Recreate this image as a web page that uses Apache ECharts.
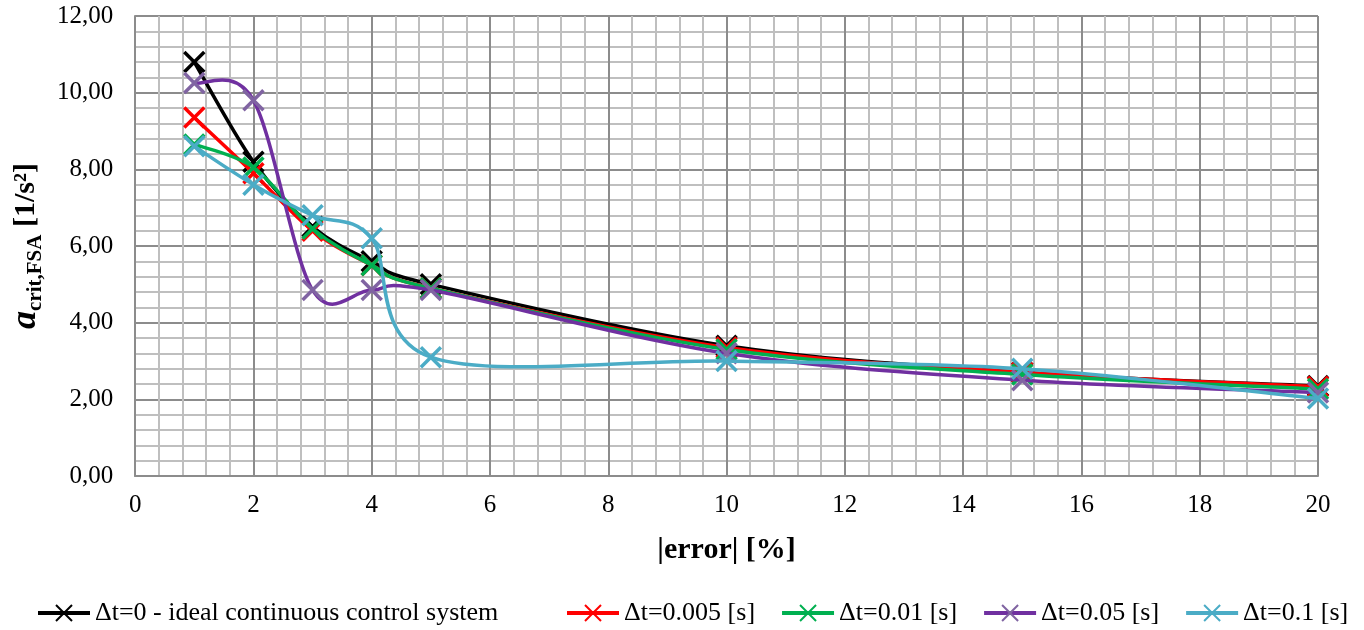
<!DOCTYPE html>
<html>
<head>
<meta charset="UTF-8">
<title>a crit FSA</title>
<script src="https://cdn.jsdelivr.net/npm/echarts@6/dist/echarts.min.js"></script>
<style>
	html, body { margin: 0; padding: 0; background: #fff; }
	#chart { width: 1364px; height: 630px; }
</style>
</head>
<body>
<div id="chart"></div>
<script>
// |error| [%]
var errors = [1, 2, 3, 4, 5, 10, 15, 20];
var names = ['\u0394t=0 - ideal continuous control system', '\u0394t=0.005 [s]', '\u0394t=0.01 [s]', '\u0394t=0.05 [s]', '\u0394t=0.1 [s]'];
var dt0    = [10.8, 8.2, 6.5, 5.6, 5.0, 3.4, 2.7, 2.35];
var dt005  = [9.35, 7.9, 6.4, 5.5, 4.9, 3.35, 2.7, 2.33];
var dt01   = [8.65, 8.05, 6.45, 5.5, 4.9, 3.3, 2.65, 2.27];
var dt05   = [10.25, 9.8, 4.85, 4.85, 4.85, 3.2, 2.5, 2.18];
var dt1    = [8.6, 7.6, 6.8, 6.2, 3.1, 3.0, 2.8, 2.02];
var lineColors = ['#000000', '#FF0000', '#00B050', '#7030A0', '#4BACC6'];
var markColors = ['#000000', '#FF0000', '#00B050', '#8064A2', '#4BACC6'];

var X = 'path://M0,0L10,10M10,0L0,10';
var font = 'Liberation Serif';

function pairs(ys) {
	var out = [];
	for (var i = 0; i < errors.length; i++) out.push([errors[i], ys[i]]);
	return out;
}

// smoothed curve like the spreadsheet one (catmull-rom through the points)
function curve(ys, color, z) {
	return {
		type: 'custom',
		name: 'curve' + z,
		silent: true,
		z: z,
		data: pairs(ys),
		renderItem: function (params, api) {
			var i = params.dataIndex;
			var n = ys.length;
			if (i >= n - 1) return null;
			var p = function (k) {
				k = Math.max(0, Math.min(n - 1, k));
				return api.coord([errors[k], ys[k]]);
			};
			var p0 = p(i - 1), p1 = p(i), p2 = p(i + 1), p3 = p(i + 2);
			return {
				type: 'bezierCurve',
				shape: {
					x1: p1[0], y1: p1[1],
					x2: p2[0], y2: p2[1],
					cpx1: p1[0] + (p2[0] - p0[0]) / 6,
					cpy1: p1[1] + (p2[1] - p0[1]) / 6,
					cpx2: p2[0] - (p3[0] - p1[0]) / 6,
					cpy2: p2[1] - (p3[1] - p1[1]) / 6
				},
				style: { fill: null, stroke: color, lineWidth: 3.5 }
			};
		}
	};
}

var all = [dt0, dt005, dt01, dt05, dt1];
var series = [];
for (var i = 0; i < all.length; i++) {
	series.push({
		name: names[i],
		type: 'line',
		data: pairs(all[i]),
		symbol: X,
		symbolSize: 20,
		showAllSymbol: true,
		lineStyle: { color: lineColors[i], width: 3.5, opacity: 0 },
		itemStyle: { color: markColors[i], borderColor: markColors[i], borderWidth: 3.5 },
		z: 3 + i * 2
	});
}
for (var j = 0; j < all.length; j++) {
	series.push(curve(all[j], lineColors[j], 2 + j * 2));
}

var legendText = { fontFamily: font, fontSize: 26, color: '#000' };
var chart = echarts.init(document.getElementById('chart'));
chart.setOption({
	animation: false,
	textStyle: { fontFamily: font },
	grid: { left: 134, right: 46, top: 16, bottom: 154 },
	legend: [{
		data: [names[0]],
		left: 31, top: 595,
		itemWidth: 52, itemHeight: 20, itemGap: 20,
		lineStyle: { opacity: 1, width: 4 },
		textStyle: legendText
	}, {
		data: names.slice(1),
		left: 560, top: 595,
		itemWidth: 52, itemHeight: 20, itemGap: 25,
		lineStyle: { opacity: 1, width: 4 },
		textStyle: legendText
	}],
	xAxis: {
		type: 'value',
		min: 0, max: 20, interval: 2,
		name: '|error| [%]',
		nameLocation: 'middle',
		nameGap: 59,
		nameTextStyle: { fontFamily: font, fontSize: 30, fontWeight: 'bold', color: '#000' },
		axisLine: { show: true, lineStyle: { color: '#8C8C8C', width: 2 } },
		axisTick: { show: false },
		axisLabel: { fontFamily: font, fontSize: 25, color: '#000', margin: 17 },
		splitLine: { show: true, lineStyle: { color: '#8C8C8C', width: 2 } },
		minorTick: { show: false, splitNumber: 5 },
		minorSplitLine: { show: true, lineStyle: { color: '#BFBFBF', width: 2 } }
	},
	yAxis: {
		type: 'value',
		min: 0, max: 12, interval: 2,
		name: '{a|a}{s|crit,FSA}{b| [1/s\u00B2]}',
		nameLocation: 'middle',
		nameRotate: 90,
		nameGap: 80,
		nameTextStyle: {
			color: '#000',
			rich: {
				a: { fontFamily: font, fontSize: 36, fontStyle: 'italic', fontWeight: 'bold', lineHeight: 40, color: '#000' },
				s: { fontFamily: font, fontSize: 21, fontWeight: 'bold', verticalAlign: 'top', padding: [19, 0, 0, 0], color: '#000' },
				b: { fontFamily: font, fontSize: 30, fontWeight: 'bold', lineHeight: 40, color: '#000' }
			}
		},
		axisLine: { show: true, lineStyle: { color: '#8C8C8C', width: 2 } },
		axisTick: { show: false },
		axisLabel: {
			fontFamily: font, fontSize: 25, color: '#000', margin: 22,
			formatter: function (v) { return v.toFixed(2).replace('.', ','); }
		},
		splitLine: { show: true, lineStyle: { color: '#8C8C8C', width: 2 } },
		minorTick: { show: false, splitNumber: 5 },
		minorSplitLine: { show: true, lineStyle: { color: '#BFBFBF', width: 2 } }
	},
	series: series
});
</script>
</body>
</html>
